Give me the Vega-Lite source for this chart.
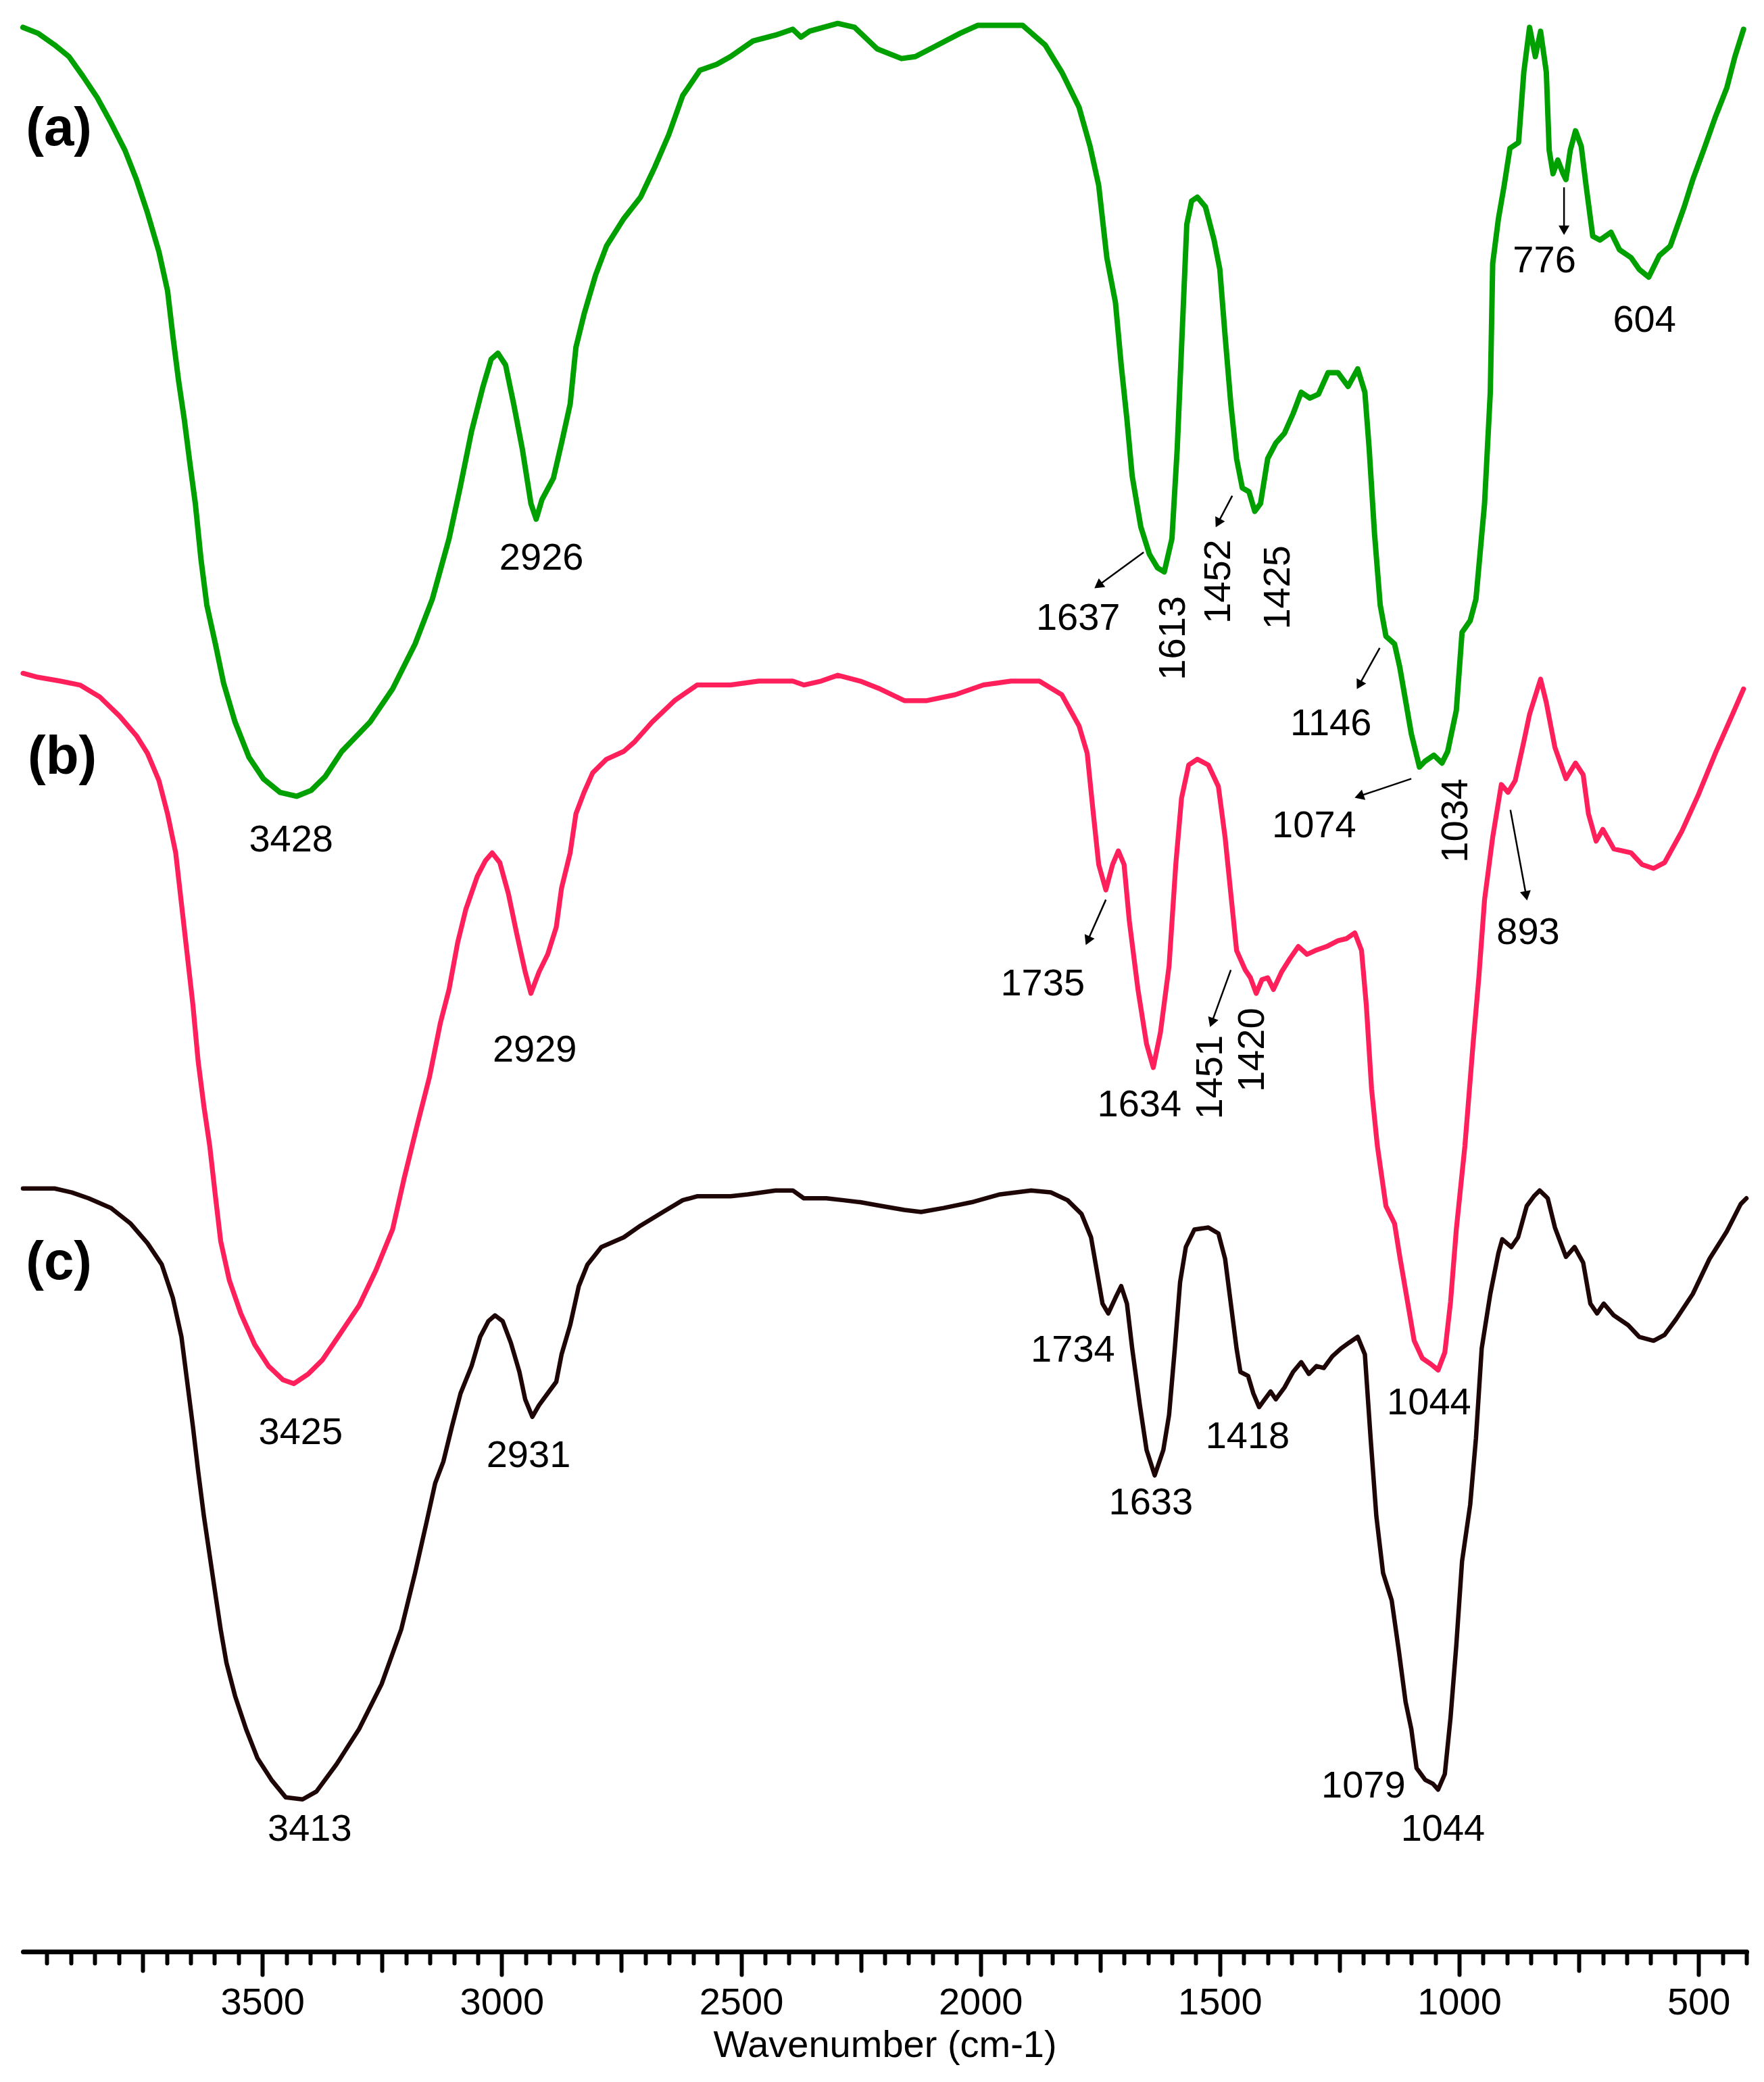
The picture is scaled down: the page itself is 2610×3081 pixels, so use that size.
{
  "$schema": "https://vega.github.io/schema/vega-lite/v6.json",
  "width": 2550,
  "height": 2888,
  "autosize": {"type": "none"},
  "padding": {"left": 34, "right": 26, "top": 0, "bottom": 193},
  "background": "white",
  "config": {"view": {"stroke": null}},
  "datasets": {
    "spectra": [
      {"s":"a","w":4000,"T":98.6},{"s":"a","w":3969,"T":98.3},{"s":"a","w":3934,"T":97.7},{"s":"a","w":3904,"T":97.1},{"s":"a","w":3875,"T":96.1},{"s":"a","w":3845,"T":95.0},{"s":"a","w":3816,"T":93.7},{"s":"a","w":3787,"T":92.3},{"s":"a","w":3763,"T":90.8},{"s":"a","w":3740,"T":89.1},{"s":"a","w":3716,"T":87.1},{"s":"a","w":3698,"T":85.1},{"s":"a","w":3687,"T":82.8},{"s":"a","w":3675,"T":80.5},{"s":"a","w":3663,"T":78.5},{"s":"a","w":3651,"T":76.2},{"s":"a","w":3640,"T":74.2},{"s":"a","w":3628,"T":71.3},{"s":"a","w":3616,"T":69.0},{"s":"a","w":3598,"T":67.0},{"s":"a","w":3581,"T":65.0},{"s":"a","w":3557,"T":63.0},{"s":"a","w":3528,"T":61.2},{"s":"a","w":3498,"T":60.1},{"s":"a","w":3463,"T":59.4},{"s":"a","w":3428,"T":59.2},{"s":"a","w":3398,"T":59.5},{"s":"a","w":3369,"T":60.2},{"s":"a","w":3334,"T":61.5},{"s":"a","w":3275,"T":63.0},{"s":"a","w":3228,"T":64.7},{"s":"a","w":3181,"T":67.0},{"s":"a","w":3145,"T":69.3},{"s":"a","w":3110,"T":72.4},{"s":"a","w":3087,"T":75.0},{"s":"a","w":3063,"T":77.9},{"s":"a","w":3039,"T":80.2},{"s":"a","w":3022,"T":81.6},{"s":"a","w":3008,"T":81.9},{"s":"a","w":2992,"T":81.3},{"s":"a","w":2975,"T":79.3},{"s":"a","w":2957,"T":77.0},{"s":"a","w":2939,"T":74.2},{"s":"a","w":2928,"T":73.4},{"s":"a","w":2916,"T":74.4},{"s":"a","w":2892,"T":75.5},{"s":"a","w":2875,"T":77.3},{"s":"a","w":2857,"T":79.3},{"s":"a","w":2845,"T":82.2},{"s":"a","w":2828,"T":83.9},{"s":"a","w":2804,"T":85.9},{"s":"a","w":2781,"T":87.4},{"s":"a","w":2745,"T":88.8},{"s":"a","w":2710,"T":89.9},{"s":"a","w":2681,"T":91.4},{"s":"a","w":2651,"T":93.1},{"s":"a","w":2622,"T":95.1},{"s":"a","w":2586,"T":96.4},{"s":"a","w":2551,"T":96.7},{"s":"a","w":2522,"T":97.1},{"s":"a","w":2475,"T":97.9},{"s":"a","w":2428,"T":98.2},{"s":"a","w":2392,"T":98.5},{"s":"a","w":2375,"T":98.1},{"s":"a","w":2357,"T":98.4},{"s":"a","w":2298,"T":98.8},{"s":"a","w":2263,"T":98.6},{"s":"a","w":2216,"T":97.5},{"s":"a","w":2165,"T":97.0},{"s":"a","w":2136,"T":97.1},{"s":"a","w":2089,"T":97.7},{"s":"a","w":2042,"T":98.3},{"s":"a","w":2006,"T":98.7},{"s":"a","w":1912,"T":98.7},{"s":"a","w":1865,"T":97.7},{"s":"a","w":1830,"T":96.3},{"s":"a","w":1794,"T":94.5},{"s":"a","w":1771,"T":92.5},{"s":"a","w":1753,"T":90.5},{"s":"a","w":1736,"T":86.8},{"s":"a","w":1718,"T":84.5},{"s":"a","w":1706,"T":81.3},{"s":"a","w":1694,"T":78.5},{"s":"a","w":1683,"T":75.6},{"s":"a","w":1665,"T":73.0},{"s":"a","w":1647,"T":71.6},{"s":"a","w":1630,"T":70.9},{"s":"a","w":1616,"T":70.7},{"s":"a","w":1600,"T":72.4},{"s":"a","w":1589,"T":77.0},{"s":"a","w":1577,"T":83.9},{"s":"a","w":1569,"T":88.5},{"s":"a","w":1559,"T":89.7},{"s":"a","w":1547,"T":89.9},{"s":"a","w":1530,"T":89.4},{"s":"a","w":1512,"T":87.7},{"s":"a","w":1500,"T":86.2},{"s":"a","w":1489,"T":82.8},{"s":"a","w":1477,"T":79.3},{"s":"a","w":1465,"T":76.5},{"s":"a","w":1453,"T":75.0},{"s":"a","w":1439,"T":74.8},{"s":"a","w":1427,"T":73.8},{"s":"a","w":1415,"T":74.2},{"s":"a","w":1400,"T":76.5},{"s":"a","w":1383,"T":77.3},{"s":"a","w":1365,"T":77.8},{"s":"a","w":1347,"T":78.8},{"s":"a","w":1330,"T":79.9},{"s":"a","w":1312,"T":79.6},{"s":"a","w":1294,"T":79.8},{"s":"a","w":1274,"T":80.9},{"s":"a","w":1253,"T":80.9},{"s":"a","w":1232,"T":80.2},{"s":"a","w":1212,"T":81.1},{"s":"a","w":1197,"T":79.9},{"s":"a","w":1188,"T":77.0},{"s":"a","w":1177,"T":72.7},{"s":"a","w":1165,"T":69.0},{"s":"a","w":1153,"T":67.4},{"s":"a","w":1135,"T":67.0},{"s":"a","w":1124,"T":65.8},{"s":"a","w":1112,"T":64.1},{"s":"a","w":1100,"T":62.4},{"s":"a","w":1083,"T":60.7},{"s":"a","w":1071,"T":61.0},{"s":"a","w":1053,"T":61.3},{"s":"a","w":1036,"T":60.9},{"s":"a","w":1024,"T":61.5},{"s":"a","w":1006,"T":63.6},{"s":"a","w":994,"T":67.6},{"s":"a","w":977,"T":68.2},{"s":"a","w":965,"T":69.3},{"s":"a","w":947,"T":74.2},{"s":"a","w":935,"T":79.9},{"s":"a","w":930,"T":86.5},{"s":"a","w":918,"T":88.8},{"s":"a","w":906,"T":90.5},{"s":"a","w":894,"T":92.4},{"s":"a","w":876,"T":92.7},{"s":"a","w":865,"T":96.3},{"s":"a","w":853,"T":98.6},{"s":"a","w":841,"T":97.1},{"s":"a","w":830,"T":98.4},{"s":"a","w":818,"T":96.3},{"s":"a","w":812,"T":92.3},{"s":"a","w":804,"T":91.1},{"s":"a","w":794,"T":91.8},{"s":"a","w":783,"T":91.1},{"s":"a","w":777,"T":90.8},{"s":"a","w":768,"T":92.3},{"s":"a","w":757,"T":93.3},{"s":"a","w":745,"T":92.5},{"s":"a","w":735,"T":90.5},{"s":"a","w":721,"T":87.9},{"s":"a","w":706,"T":87.7},{"s":"a","w":683,"T":88.1},{"s":"a","w":665,"T":87.2},{"s":"a","w":641,"T":86.8},{"s":"a","w":624,"T":86.2},{"s":"a","w":604,"T":85.8},{"s":"a","w":582,"T":86.9},{"s":"a","w":559,"T":87.4},{"s":"a","w":530,"T":89.4},{"s":"a","w":512,"T":90.8},{"s":"a","w":488,"T":92.4},{"s":"a","w":465,"T":94.0},{"s":"a","w":441,"T":95.5},{"s":"a","w":424,"T":97.1},{"s":"a","w":406,"T":98.5},

      {"s":"b","w":4000,"T":65.5},{"s":"b","w":3969,"T":65.3},{"s":"b","w":3922,"T":65.1},{"s":"b","w":3881,"T":64.9},{"s":"b","w":3840,"T":64.3},{"s":"b","w":3798,"T":63.3},{"s":"b","w":3763,"T":62.3},{"s":"b","w":3740,"T":61.4},{"s":"b","w":3716,"T":60.0},{"s":"b","w":3698,"T":58.3},{"s":"b","w":3681,"T":56.3},{"s":"b","w":3669,"T":53.7},{"s":"b","w":3657,"T":51.1},{"s":"b","w":3645,"T":48.5},{"s":"b","w":3634,"T":45.6},{"s":"b","w":3622,"T":43.3},{"s":"b","w":3610,"T":41.3},{"s":"b","w":3598,"T":38.7},{"s":"b","w":3587,"T":36.4},{"s":"b","w":3569,"T":34.4},{"s":"b","w":3545,"T":32.7},{"s":"b","w":3516,"T":31.1},{"s":"b","w":3487,"T":30.0},{"s":"b","w":3457,"T":29.3},{"s":"b","w":3434,"T":29.1},{"s":"b","w":3404,"T":29.6},{"s":"b","w":3375,"T":30.3},{"s":"b","w":3339,"T":31.6},{"s":"b","w":3298,"T":33.1},{"s":"b","w":3263,"T":34.9},{"s":"b","w":3228,"T":37.0},{"s":"b","w":3204,"T":39.6},{"s":"b","w":3175,"T":42.5},{"s":"b","w":3151,"T":44.8},{"s":"b","w":3128,"T":47.6},{"s":"b","w":3110,"T":49.3},{"s":"b","w":3092,"T":51.7},{"s":"b","w":3075,"T":53.4},{"s":"b","w":3051,"T":55.1},{"s":"b","w":3034,"T":55.9},{"s":"b","w":3020,"T":56.3},{"s":"b","w":3004,"T":55.8},{"s":"b","w":2986,"T":54.2},{"s":"b","w":2969,"T":52.2},{"s":"b","w":2951,"T":50.2},{"s":"b","w":2939,"T":49.1},{"s":"b","w":2922,"T":50.2},{"s":"b","w":2904,"T":51.1},{"s":"b","w":2886,"T":52.5},{"s":"b","w":2875,"T":54.5},{"s":"b","w":2857,"T":56.3},{"s":"b","w":2845,"T":58.3},{"s":"b","w":2828,"T":59.4},{"s":"b","w":2810,"T":60.4},{"s":"b","w":2781,"T":61.1},{"s":"b","w":2745,"T":61.5},{"s":"b","w":2722,"T":62.0},{"s":"b","w":2686,"T":63.0},{"s":"b","w":2639,"T":64.1},{"s":"b","w":2592,"T":64.9},{"s":"b","w":2522,"T":64.9},{"s":"b","w":2463,"T":65.1},{"s":"b","w":2392,"T":65.1},{"s":"b","w":2369,"T":64.9},{"s":"b","w":2333,"T":65.1},{"s":"b","w":2298,"T":65.4},{"s":"b","w":2251,"T":65.1},{"s":"b","w":2210,"T":64.7},{"s":"b","w":2159,"T":64.1},{"s":"b","w":2112,"T":64.1},{"s":"b","w":2053,"T":64.4},{"s":"b","w":1994,"T":64.9},{"s":"b","w":1936,"T":65.1},{"s":"b","w":1877,"T":65.1},{"s":"b","w":1830,"T":64.4},{"s":"b","w":1794,"T":62.8},{"s":"b","w":1777,"T":61.4},{"s":"b","w":1765,"T":58.5},{"s":"b","w":1753,"T":55.7},{"s":"b","w":1738,"T":54.4},{"s":"b","w":1724,"T":55.7},{"s":"b","w":1712,"T":56.4},{"s":"b","w":1700,"T":55.7},{"s":"b","w":1689,"T":52.8},{"s":"b","w":1671,"T":49.3},{"s":"b","w":1653,"T":46.5},{"s":"b","w":1639,"T":45.3},{"s":"b","w":1624,"T":47.1},{"s":"b","w":1606,"T":50.5},{"s":"b","w":1592,"T":55.7},{"s":"b","w":1580,"T":59.1},{"s":"b","w":1565,"T":60.8},{"s":"b","w":1547,"T":61.1},{"s":"b","w":1524,"T":60.8},{"s":"b","w":1503,"T":59.7},{"s":"b","w":1489,"T":57.1},{"s":"b","w":1477,"T":54.2},{"s":"b","w":1465,"T":51.3},{"s":"b","w":1447,"T":50.3},{"s":"b","w":1436,"T":49.9},{"s":"b","w":1424,"T":49.1},{"s":"b","w":1412,"T":49.8},{"s":"b","w":1400,"T":49.9},{"s":"b","w":1388,"T":49.3},{"s":"b","w":1371,"T":50.2},{"s":"b","w":1353,"T":50.9},{"s":"b","w":1336,"T":51.5},{"s":"b","w":1318,"T":51.1},{"s":"b","w":1300,"T":51.3},{"s":"b","w":1277,"T":51.5},{"s":"b","w":1253,"T":51.8},{"s":"b","w":1236,"T":51.9},{"s":"b","w":1218,"T":52.2},{"s":"b","w":1204,"T":51.3},{"s":"b","w":1194,"T":48.5},{"s":"b","w":1183,"T":44.2},{"s":"b","w":1171,"T":41.3},{"s":"b","w":1153,"T":38.2},{"s":"b","w":1135,"T":37.3},{"s":"b","w":1124,"T":35.6},{"s":"b","w":1110,"T":33.6},{"s":"b","w":1094,"T":31.3},{"s":"b","w":1077,"T":30.4},{"s":"b","w":1059,"T":30.1},{"s":"b","w":1044,"T":29.8},{"s":"b","w":1030,"T":30.7},{"s":"b","w":1018,"T":33.3},{"s":"b","w":1006,"T":37.0},{"s":"b","w":988,"T":41.3},{"s":"b","w":971,"T":46.5},{"s":"b","w":959,"T":49.9},{"s":"b","w":947,"T":53.9},{"s":"b","w":930,"T":57.1},{"s":"b","w":912,"T":59.8},{"s":"b","w":898,"T":59.4},{"s":"b","w":883,"T":60.0},{"s":"b","w":865,"T":62.0},{"s":"b","w":853,"T":63.4},{"s":"b","w":830,"T":65.2},{"s":"b","w":818,"T":64.0},{"s":"b","w":800,"T":61.7},{"s":"b","w":777,"T":60.1},{"s":"b","w":757,"T":60.9},{"s":"b","w":741,"T":60.3},{"s":"b","w":730,"T":58.3},{"s":"b","w":714,"T":56.9},{"s":"b","w":700,"T":57.5},{"s":"b","w":677,"T":56.5},{"s":"b","w":641,"T":56.3},{"s":"b","w":618,"T":55.7},{"s":"b","w":594,"T":55.5},{"s":"b","w":571,"T":55.8},{"s":"b","w":535,"T":57.4},{"s":"b","w":500,"T":59.3},{"s":"b","w":465,"T":61.4},{"s":"b","w":429,"T":63.4},{"s":"b","w":406,"T":64.7},

      {"s":"c","w":4000,"T":39.1},{"s":"c","w":3934,"T":39.1},{"s":"c","w":3898,"T":38.9},{"s":"c","w":3863,"T":38.6},{"s":"c","w":3816,"T":38.1},{"s":"c","w":3775,"T":37.3},{"s":"c","w":3740,"T":36.3},{"s":"c","w":3710,"T":35.2},{"s":"c","w":3687,"T":33.5},{"s":"c","w":3669,"T":31.5},{"s":"c","w":3657,"T":29.2},{"s":"c","w":3645,"T":26.9},{"s":"c","w":3634,"T":24.6},{"s":"c","w":3622,"T":22.3},{"s":"c","w":3610,"T":20.3},{"s":"c","w":3598,"T":18.3},{"s":"c","w":3587,"T":16.5},{"s":"c","w":3575,"T":14.8},{"s":"c","w":3557,"T":13.1},{"s":"c","w":3534,"T":11.4},{"s":"c","w":3510,"T":9.9},{"s":"c","w":3481,"T":8.8},{"s":"c","w":3451,"T":7.9},{"s":"c","w":3416,"T":7.8},{"s":"c","w":3387,"T":8.2},{"s":"c","w":3345,"T":9.6},{"s":"c","w":3298,"T":11.4},{"s":"c","w":3251,"T":13.7},{"s":"c","w":3210,"T":16.5},{"s":"c","w":3181,"T":19.4},{"s":"c","w":3157,"T":22.0},{"s":"c","w":3139,"T":24.0},{"s":"c","w":3122,"T":25.1},{"s":"c","w":3104,"T":26.9},{"s":"c","w":3086,"T":28.6},{"s":"c","w":3063,"T":30.0},{"s":"c","w":3045,"T":31.5},{"s":"c","w":3028,"T":32.3},{"s":"c","w":3014,"T":32.6},{"s":"c","w":2998,"T":32.3},{"s":"c","w":2981,"T":31.2},{"s":"c","w":2963,"T":29.7},{"s":"c","w":2951,"T":28.3},{"s":"c","w":2936,"T":27.4},{"s":"c","w":2922,"T":28.0},{"s":"c","w":2904,"T":28.6},{"s":"c","w":2886,"T":29.2},{"s":"c","w":2875,"T":30.6},{"s":"c","w":2857,"T":32.1},{"s":"c","w":2839,"T":34.1},{"s":"c","w":2821,"T":35.2},{"s":"c","w":2792,"T":36.1},{"s":"c","w":2745,"T":36.6},{"s":"c","w":2710,"T":37.2},{"s":"c","w":2663,"T":37.9},{"s":"c","w":2622,"T":38.5},{"s":"c","w":2592,"T":38.7},{"s":"c","w":2522,"T":38.7},{"s":"c","w":2486,"T":38.8},{"s":"c","w":2428,"T":39.0},{"s":"c","w":2392,"T":39.0},{"s":"c","w":2369,"T":38.6},{"s":"c","w":2322,"T":38.6},{"s":"c","w":2286,"T":38.5},{"s":"c","w":2251,"T":38.4},{"s":"c","w":2206,"T":38.2},{"s":"c","w":2159,"T":38.0},{"s":"c","w":2124,"T":37.9},{"s":"c","w":2077,"T":38.1},{"s":"c","w":2018,"T":38.4},{"s":"c","w":1959,"T":38.8},{"s":"c","w":1894,"T":39.0},{"s":"c","w":1853,"T":38.9},{"s":"c","w":1818,"T":38.5},{"s":"c","w":1789,"T":37.8},{"s":"c","w":1769,"T":36.6},{"s":"c","w":1757,"T":34.9},{"s":"c","w":1745,"T":33.2},{"s":"c","w":1733,"T":32.7},{"s":"c","w":1718,"T":33.5},{"s":"c","w":1706,"T":34.1},{"s":"c","w":1694,"T":33.2},{"s":"c","w":1683,"T":30.9},{"s":"c","w":1667,"T":28.0},{"s":"c","w":1653,"T":25.7},{"s":"c","w":1636,"T":24.4},{"s":"c","w":1618,"T":25.7},{"s":"c","w":1606,"T":27.5},{"s":"c","w":1594,"T":30.9},{"s":"c","w":1583,"T":34.3},{"s":"c","w":1571,"T":36.1},{"s":"c","w":1553,"T":37.0},{"s":"c","w":1524,"T":37.1},{"s":"c","w":1503,"T":36.8},{"s":"c","w":1489,"T":35.5},{"s":"c","w":1477,"T":33.2},{"s":"c","w":1465,"T":30.9},{"s":"c","w":1457,"T":29.7},{"s":"c","w":1441,"T":29.5},{"s":"c","w":1430,"T":28.6},{"s":"c","w":1418,"T":27.9},{"s":"c","w":1406,"T":28.3},{"s":"c","w":1394,"T":28.7},{"s":"c","w":1383,"T":28.3},{"s":"c","w":1365,"T":28.9},{"s":"c","w":1347,"T":29.7},{"s":"c","w":1330,"T":30.2},{"s":"c","w":1314,"T":29.6},{"s":"c","w":1298,"T":30.0},{"s":"c","w":1283,"T":29.9},{"s":"c","w":1265,"T":30.5},{"s":"c","w":1247,"T":30.9},{"s":"c","w":1230,"T":31.2},{"s":"c","w":1212,"T":31.5},{"s":"c","w":1197,"T":30.6},{"s":"c","w":1185,"T":26.3},{"s":"c","w":1173,"T":22.3},{"s":"c","w":1159,"T":19.4},{"s":"c","w":1141,"T":18.0},{"s":"c","w":1126,"T":15.4},{"s":"c","w":1112,"T":12.8},{"s":"c","w":1100,"T":11.4},{"s":"c","w":1089,"T":9.4},{"s":"c","w":1071,"T":8.8},{"s":"c","w":1055,"T":8.6},{"s":"c","w":1044,"T":8.3},{"s":"c","w":1030,"T":9.1},{"s":"c","w":1018,"T":12.0},{"s":"c","w":1006,"T":15.7},{"s":"c","w":994,"T":20.0},{"s":"c","w":977,"T":22.9},{"s":"c","w":965,"T":26.3},{"s":"c","w":953,"T":30.9},{"s":"c","w":935,"T":33.7},{"s":"c","w":918,"T":35.8},{"s":"c","w":910,"T":36.5},{"s":"c","w":891,"T":36.1},{"s":"c","w":877,"T":36.6},{"s":"c","w":859,"T":38.2},{"s":"c","w":844,"T":38.7},{"s":"c","w":832,"T":39.0},{"s":"c","w":815,"T":38.6},{"s":"c","w":800,"T":37.1},{"s":"c","w":777,"T":35.6},{"s":"c","w":759,"T":36.1},{"s":"c","w":741,"T":35.3},{"s":"c","w":726,"T":33.2},{"s":"c","w":712,"T":32.7},{"s":"c","w":698,"T":33.2},{"s":"c","w":677,"T":32.6},{"s":"c","w":647,"T":32.1},{"s":"c","w":624,"T":31.5},{"s":"c","w":594,"T":31.3},{"s":"c","w":571,"T":31.6},{"s":"c","w":547,"T":32.4},{"s":"c","w":512,"T":33.7},{"s":"c","w":477,"T":35.5},{"s":"c","w":441,"T":36.9},{"s":"c","w":412,"T":38.3},{"s":"c","w":400,"T":38.6}
    ],
    "labels": [
      {"label":"2926","w":2917,"T":71.4},{"label":"3428","w":3440,"T":56.95},{"label":"1637","w":1796,"T":68.3},{"label":"1146","w":1268,"T":62.9},{"label":"1074","w":1303,"T":57.7},{"label":"776","w":822,"T":86.65},{"label":"604","w":613,"T":83.6},
      {"label":"2929","w":2931,"T":46.2},{"label":"3425","w":3420,"T":26.6},{"label":"1735","w":1870,"T":49.6},{"label":"1634","w":1668,"T":43.4},{"label":"1044","w":1063,"T":28.1},{"label":"893","w":856,"T":52.2},
      {"label":"2931","w":2944,"T":25.4},{"label":"1734","w":1807,"T":30.8},{"label":"1633","w":1644,"T":23.0},{"label":"1418","w":1442,"T":26.4},{"label":"1079","w":1200,"T":8.5},{"label":"1044","w":1034,"T":6.26},{"label":"3413","w":3401,"T":6.26}
    ],
    "vlabels": [
      {"label":"1613","w":1597,"T":67.3},{"label":"1452","w":1502,"T":70.2},{"label":"1425","w":1378,"T":69.9},{"label":"1034","w":1007,"T":57.95},{"label":"1451","w":1519,"T":44.8},{"label":"1420","w":1432,"T":46.2}
    ],
    "panels": [
      {"label":"(a)","w":3925,"T":93.4},{"label":"(b)","w":3918,"T":61.2},{"label":"(c)","w":3925,"T":35.3}
    ],
    "arrows": [
      {"w1":1659,"T1":71.7,"w2":1754,"T2":70.0},
      {"w1":1474,"T1":74.6,"w2":1504,"T2":73.2},
      {"w1":1166,"T1":66.8,"w2":1209,"T2":64.9},
      {"w1":1100,"T1":60.1,"w2":1209,"T2":59.2},
      {"w1":781,"T1":90.4,"w2":781,"T2":88.2},
      {"w1":1738,"T1":53.9,"w2":1776,"T2":51.8},
      {"w1":1477,"T1":50.3,"w2":1517,"T2":47.6},
      {"w1":893,"T1":58.5,"w2":860,"T2":54.1}
    ]
  },
  "encoding": {
    "x": {
      "field": "w", "type": "quantitative",
      "scale": {"domain": [400, 4000], "reverse": true, "nice": false, "zero": false},
      "axis": {
        "title": "Wavenumber (cm-1)",
        "values": [400,450,500,550,600,650,700,750,800,850,900,950,1000,1050,1100,1150,1200,1250,1300,1350,1400,1450,1500,1550,1600,1650,1700,1750,1800,1850,1900,1950,2000,2050,2100,2150,2200,2250,2300,2350,2400,2450,2500,2550,2600,2650,2700,2750,2800,2850,2900,2950,3000,3050,3100,3150,3200,3250,3300,3350,3400,3450,3500,3550,3600,3650,3700,3750,3800,3850,3900,3950],
        "format": "d",
        "labelExpr": "datum.value % 500 === 0 ? datum.label : ''",
        "labelOverlap": false,
        "labelFlush": false,
        "grid": false,
        "domainColor": "black",
        "domainWidth": 7,
        "domainCap": "round",
        "tickColor": "black",
        "tickWidth": 6,
        "tickCap": "round",
        "tickSize": {"condition": [{"test": "datum.value % 500 === 0", "value": 34}, {"test": "datum.value % 250 === 0", "value": 28}], "value": 17},
        "labelFont": "Liberation Sans",
        "labelFontSize": 56,
        "labelColor": "black",
        "labelPadding": 14,
        "titleFont": "Liberation Sans",
        "titleFontSize": 56,
        "titleFontWeight": "normal",
        "titleColor": "black",
        "titlePadding": 8
      }
    },
    "y": {"field": "T", "type": "quantitative", "scale": {"domain": [0, 100], "nice": false, "zero": false}, "axis": null}
  },
  "layer": [
    {
      "data": {"name": "spectra"},
      "mark": {"type": "line", "strokeJoin": "round", "strokeCap": "round"},
      "encoding": {
        "color": {"field": "s", "type": "nominal", "scale": {"domain": ["a","b","c"], "range": ["#00a000", "#ff1f5b", "#1e0606"]}, "legend": null},
        "strokeWidth": {"field": "s", "type": "nominal", "scale": {"domain": ["a","b","c"], "range": [8, 6.5, 6]}, "legend": null},
        "order": {"field": "w", "type": "quantitative", "sort": "descending"}
      }
    },
    {
      "data": {"name": "arrows"},
      "mark": {"type": "rule", "color": "black", "strokeWidth": 2.5},
      "encoding": {
        "x": {"field": "w1", "type": "quantitative"},
        "y": {"field": "T1", "type": "quantitative"},
        "x2": {"field": "w2"},
        "y2": {"field": "T2"}
      }
    },
    {
      "data": {"name": "arrows"},
      "transform": [
        {"calculate": "(atan2((datum.w1 - datum.w2) * 0.70833, -((datum.T1 - datum.T2) * 28.88)) * 180 / PI + 360) % 360", "as": "ang"}
      ],
      "mark": {"type": "point", "shape": "triangle-up", "filled": true, "color": "black", "opacity": 1, "size": 260},
      "encoding": {
        "x": {"field": "w2", "type": "quantitative"},
        "y": {"field": "T2", "type": "quantitative"},
        "angle": {"field": "ang", "type": "quantitative", "scale": null}
      }
    },
    {
      "data": {"name": "labels"},
      "mark": {"type": "text", "font": "Liberation Sans", "fontSize": 56, "color": "black", "align": "center", "baseline": "middle"},
      "encoding": {"text": {"field": "label"}}
    },
    {
      "data": {"name": "vlabels"},
      "mark": {"type": "text", "font": "Liberation Sans", "fontSize": 56, "color": "black", "align": "center", "baseline": "middle", "angle": 270},
      "encoding": {"text": {"field": "label"}}
    },
    {
      "data": {"name": "panels"},
      "mark": {"type": "text", "font": "Liberation Sans", "fontSize": 80, "fontWeight": "bold", "color": "black", "align": "center", "baseline": "middle"},
      "encoding": {"text": {"field": "label"}}
    }
  ]
}
